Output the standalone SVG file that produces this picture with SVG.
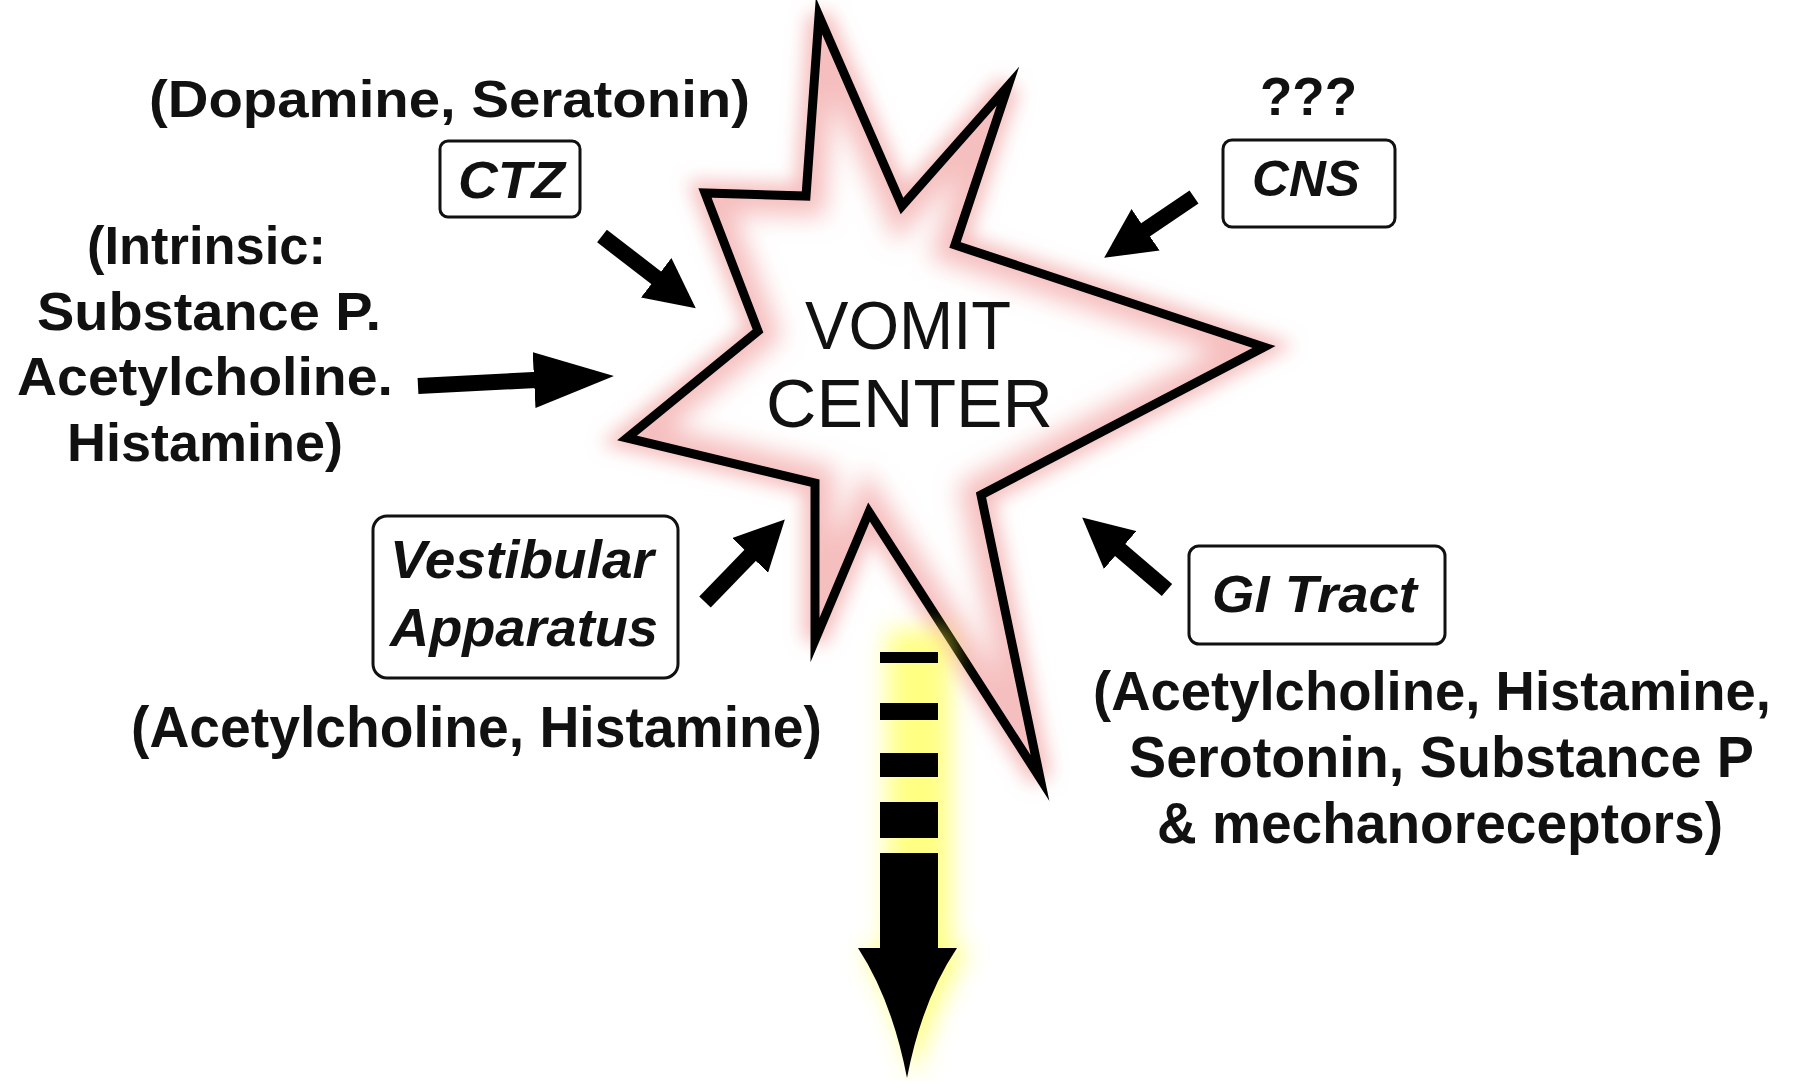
<svg xmlns="http://www.w3.org/2000/svg" xmlns:xlink="http://www.w3.org/1999/xlink" width="1798" height="1081" viewBox="0 0 1798 1081">
<style>
.lbl{font-family:"Liberation Sans",Arial,sans-serif;font-weight:bold;fill:#111;}
.box{fill:#fff;stroke:#111;stroke-width:3;}
.it{font-style:italic;}
.ctr{font-family:"Liberation Sans",Arial,sans-serif;font-weight:normal;fill:#111;}
.shaft{stroke:#000;stroke-width:16;fill:none;}
</style>
<defs>
  <path id="starShape" d="M819,16 L902,206 L1008,86 L955,245 L1264,347 L981,495 L1040,778 L869,512 L815,640 L815,483 L627,438 L758,331 L705,193 L806,196 Z"/>
  <clipPath id="starClip"><use xlink:href="#starShape"/></clipPath>
  <filter id="glow" x="-20%" y="-20%" width="140%" height="140%"><feGaussianBlur stdDeviation="9"/></filter>
  <filter id="glowIn" x="-20%" y="-20%" width="140%" height="140%"><feGaussianBlur stdDeviation="12"/></filter>
  <filter id="yglow" x="-100%" y="-20%" width="300%" height="140%"><feGaussianBlur stdDeviation="12"/></filter>
  <marker id="head" markerUnits="userSpaceOnUse" markerWidth="50" markerHeight="50" viewBox="0 0 50 50" refX="20" refY="25" orient="auto">
    <path d="M0,0 L50,25 L0,50 Z" fill="#000"/>
  </marker>
  <marker id="headL" markerUnits="userSpaceOnUse" markerWidth="80" markerHeight="56" viewBox="0 0 80 56" refX="40" refY="28" orient="auto">
    <path d="M0,0 L80,28 L0,56 Z" fill="#000"/>
  </marker>
</defs>
<rect width="1798" height="1081" fill="#fff"/>

<g id="vomit-center">
  <use xlink:href="#starShape" fill="none" stroke="#f2a4a4" stroke-opacity="0.7" stroke-width="24" filter="url(#glow)"/>
  <use xlink:href="#starShape" fill="#fff"/>
  <g clip-path="url(#starClip)">
    <use xlink:href="#starShape" fill="none" stroke="#f3aaaa" stroke-opacity="0.75" stroke-width="40" filter="url(#glowIn)"/>
  </g>
  <use xlink:href="#starShape" fill="none" stroke="#000" stroke-width="9" stroke-linejoin="miter" stroke-miterlimit="20"/>
  <text class="ctr" x="805" y="349" font-size="68" textLength="206" lengthAdjust="spacingAndGlyphs">VOMIT</text>
  <text class="ctr" x="766" y="427" font-size="68" textLength="287" lengthAdjust="spacingAndGlyphs">CENTER</text>
</g>

<g id="output-arrow">
  <path d="M880,630 L944,630 L944,948 L962,948 Q926,1010 907,1078 Q890,1010 856,948 L880,948 Z" fill="#ffff40" opacity="0.65" filter="url(#yglow)" transform="translate(7,0)"/>
  <rect x="880" y="652" width="58" height="11" fill="#000"/>
  <rect x="880" y="703" width="58" height="17" fill="#000"/>
  <rect x="880" y="753" width="58" height="24" fill="#000"/>
  <rect x="880" y="802" width="58" height="36" fill="#000"/>
  <rect x="880" y="853" width="58" height="96" fill="#000"/>
  <path d="M858,948 L957,948 Q922,1000 907,1078 Q892,1000 858,948 Z" fill="#000"/>
</g>

<g id="ctz">
  <text class="lbl" x="149" y="117" font-size="52" textLength="601" lengthAdjust="spacingAndGlyphs">(Dopamine, Seratonin)</text>
  <rect class="box" x="440" y="141" width="140" height="76" rx="8"/>
  <text class="lbl it" x="458" y="198" font-size="52" textLength="107" lengthAdjust="spacingAndGlyphs">CTZ</text>
</g>

<g id="cns">
  <text class="lbl" x="1260" y="115" font-size="54" textLength="97" lengthAdjust="spacingAndGlyphs">???</text>
  <rect class="box" x="1223" y="140" width="172" height="87" rx="9"/>
  <text class="lbl it" x="1252" y="196" font-size="50" textLength="108" lengthAdjust="spacingAndGlyphs">CNS</text>
</g>

<g id="intrinsic">
  <text class="lbl" x="87" y="264" font-size="54" textLength="239" lengthAdjust="spacingAndGlyphs">(Intrinsic:</text>
  <text class="lbl" x="37" y="330" font-size="54" textLength="344" lengthAdjust="spacingAndGlyphs">Substance P.</text>
  <text class="lbl" x="17" y="395" font-size="54" textLength="376" lengthAdjust="spacingAndGlyphs">Acetylcholine.</text>
  <text class="lbl" x="67" y="461" font-size="54" textLength="276" lengthAdjust="spacingAndGlyphs">Histamine)</text>
</g>

<g id="vestibular">
  <rect class="box" x="373" y="516" width="305" height="162" rx="14"/>
  <text class="lbl it" x="390" y="578" font-size="54" textLength="264" lengthAdjust="spacingAndGlyphs">Vestibular</text>
  <text class="lbl it" x="390" y="646" font-size="54" textLength="268" lengthAdjust="spacingAndGlyphs">Apparatus</text>
  <text class="lbl" x="131" y="747" font-size="57" textLength="691" lengthAdjust="spacingAndGlyphs">(Acetylcholine, Histamine)</text>
</g>

<g id="gi-tract">
  <rect class="box" x="1189" y="546" width="256" height="98" rx="10"/>
  <text class="lbl it" x="1212" y="612" font-size="52" textLength="205" lengthAdjust="spacingAndGlyphs">GI Tract</text>
  <text class="lbl" x="1093" y="710" font-size="55" textLength="678" lengthAdjust="spacingAndGlyphs">(Acetylcholine, Histamine,</text>
  <text class="lbl" x="1129" y="777" font-size="57" textLength="625" lengthAdjust="spacingAndGlyphs">Serotonin, Substance P</text>
  <text class="lbl" x="1157" y="843" font-size="57" textLength="566" lengthAdjust="spacingAndGlyphs">&amp; mechanoreceptors)</text>
</g>

<g id="connectors">
  <line class="shaft" x1="602" y1="236" x2="672" y2="290" marker-end="url(#head)"/>
  <line class="shaft" x1="1194" y1="197" x2="1129" y2="241" marker-end="url(#head)"/>
  <line class="shaft" x1="705" y1="602" x2="764" y2="541" marker-end="url(#head)"/>
  <line class="shaft" x1="1167" y1="590" x2="1105" y2="537" marker-end="url(#head)"/>
  <line class="shaft" x1="418" y1="386" x2="574" y2="378" stroke-width="18" marker-end="url(#headL)"/>
</g>
</svg>
